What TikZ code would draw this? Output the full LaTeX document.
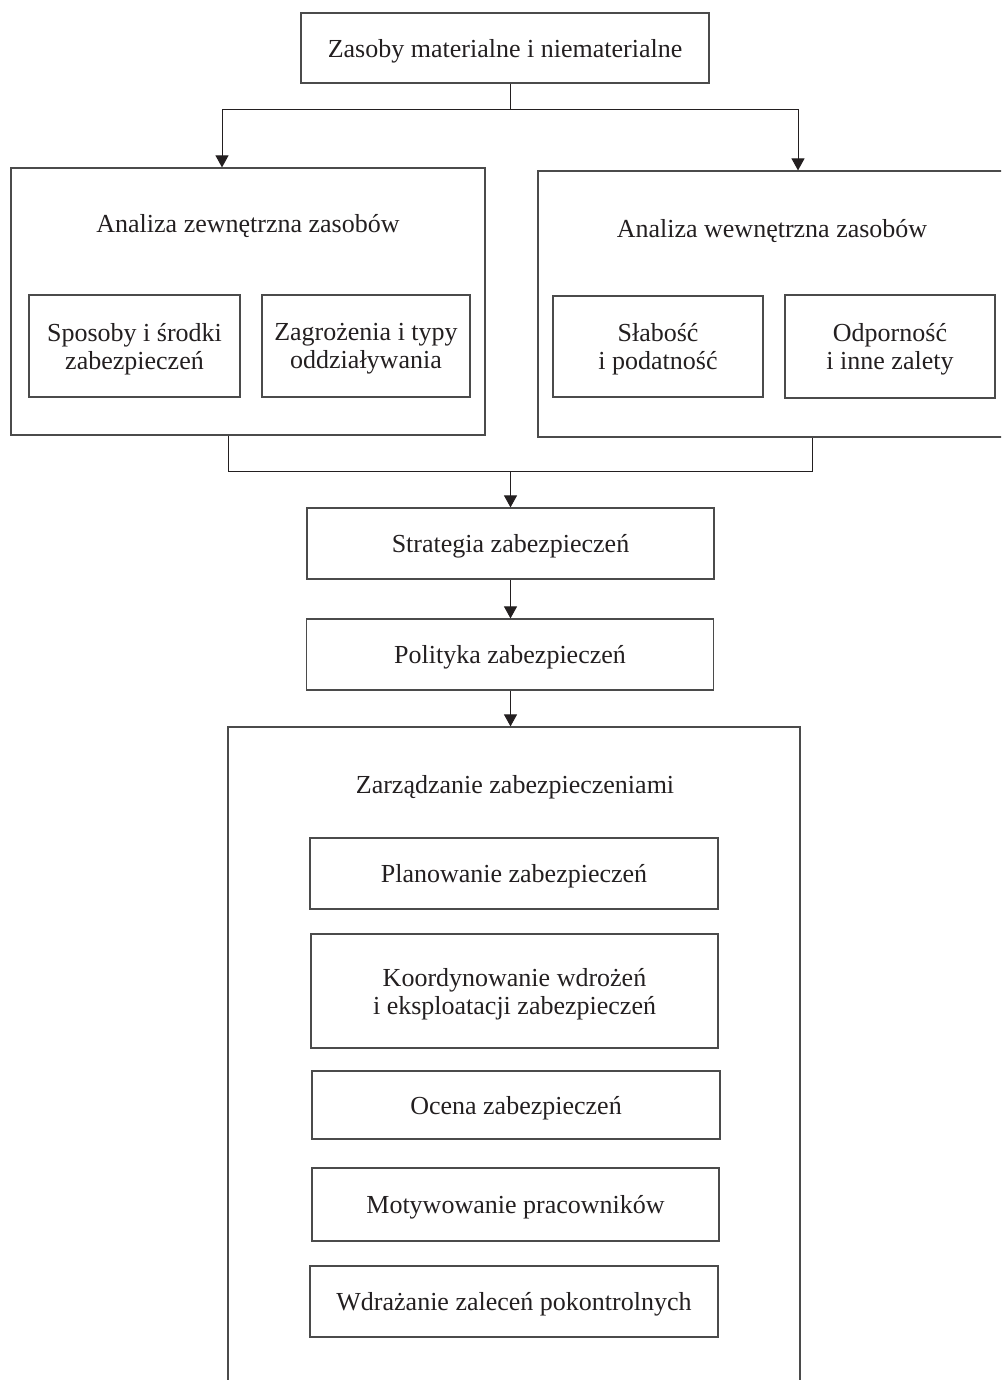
\documentclass[tikz,border=0pt]{standalone}
\usepackage{fontspec}
\setmainfont{Liberation Serif}
\usetikzlibrary{arrows.meta,calc}
\definecolor{ink}{RGB}{35,31,32}
\definecolor{edge}{RGB}{75,75,75}
\begin{document}
\begin{tikzpicture}[x=1pt,y=-1pt,
  txt/.style={text=ink,font=\fontsize{26}{28}\selectfont,align=center,inner sep=0pt,text depth=0pt},
  box/.style={txt,draw=edge,line width=1.2pt},
  conn/.style={draw=ink,line width=1pt},
  arr/.style={conn,-{Triangle[length=12pt,width=13pt]}}]
\useasboundingbox (0,0) rectangle (1001,1380);
\clip (0,0) rectangle (1001,1380);
% top
\node[box,minimum width=408pt,minimum height=70pt] (top) at (505,48) {Zasoby materialne i niematerialne};
% left group
\node[box,minimum width=474pt,minimum height=267pt] (L) at (248,301.5) {};
\node[txt] (Lt) at (248,223) {Analiza zewnętrzna zasobów};
\node[box,minimum width=211pt,minimum height=102pt] (L1) at (134.5,346) {Sposoby i środki\\zabezpieczeń};
\node[box,minimum width=208pt,minimum height=102pt] (L2) at (366,346) {Zagrożenia i typy\\oddziaływania};
% right group
\node[box,minimum width=472pt,minimum height=266pt] (R) at (774,304) {};
\node[txt] (Rt) at (772,228) {Analiza wewnętrzna zasobów};
\node[box,minimum width=210pt,minimum height=101pt] (R1) at (658,346.5) {Słabość\\i podatność};
\node[box,minimum width=210pt,minimum height=103pt] (R2) at (890,346.5) {Odporność\\i inne zalety};
% middle
\node[box,minimum width=407pt,minimum height=71pt] (S) at (510.5,543.5) {Strategia zabezpieczeń};
\node[box,minimum width=407pt,minimum height=71pt] (P) at (510,654.5) {Polityka zabezpieczeń};
% management
\node[box,minimum width=572pt,minimum height=673pt] (Z) at (514,1063.5) {};
\node[txt] (Zt) at (515,784) {Zarządzanie zabezpieczeniami};
\node[box,minimum width=408pt,minimum height=71pt] (Z1) at (514,873.5) {Planowanie zabezpieczeń};
\node[box,minimum width=407pt,minimum height=114pt] (Z2) at (514.5,991) {Koordynowanie wdrożeń\\i eksploatacji zabezpieczeń};
\node[box,minimum width=408pt,minimum height=68pt] (Z3) at (516,1105) {Ocena zabezpieczeń};
\node[box,minimum width=407pt,minimum height=73pt] (Z4) at (515.5,1204.5) {Motywowanie pracowników};
\node[box,minimum width=408pt,minimum height=71pt] (Z5) at (514,1301.5) {Wdrażanie zaleceń pokontrolnych};
% connector coordinates
\coordinate (j1) at (510.5,110);
\coordinate (aL) at (222,0);
\coordinate (aR) at (798,0);
\coordinate (j2) at (510.5,471);
\coordinate (bL) at (228,0);
\coordinate (bR) at (812,0);
% connectors
\draw[conn] (top.south -| j1) -- (j1);
\draw[arr] (j1) -| (aL |- L.north);
\draw[arr] (j1) -| (aR |- R.north);
\draw[conn] (bL |- L.south) |- (j2);
\draw[conn] (bR |- R.south) |- (j2);
\draw[arr] (j2) -- (j2 |- S.north);
\draw[arr] (S.south -| j2) -- (j2 |- P.north);
\draw[arr] (P.south -| j2) -- (j2 |- Z.north);
\end{tikzpicture}
\end{document}
